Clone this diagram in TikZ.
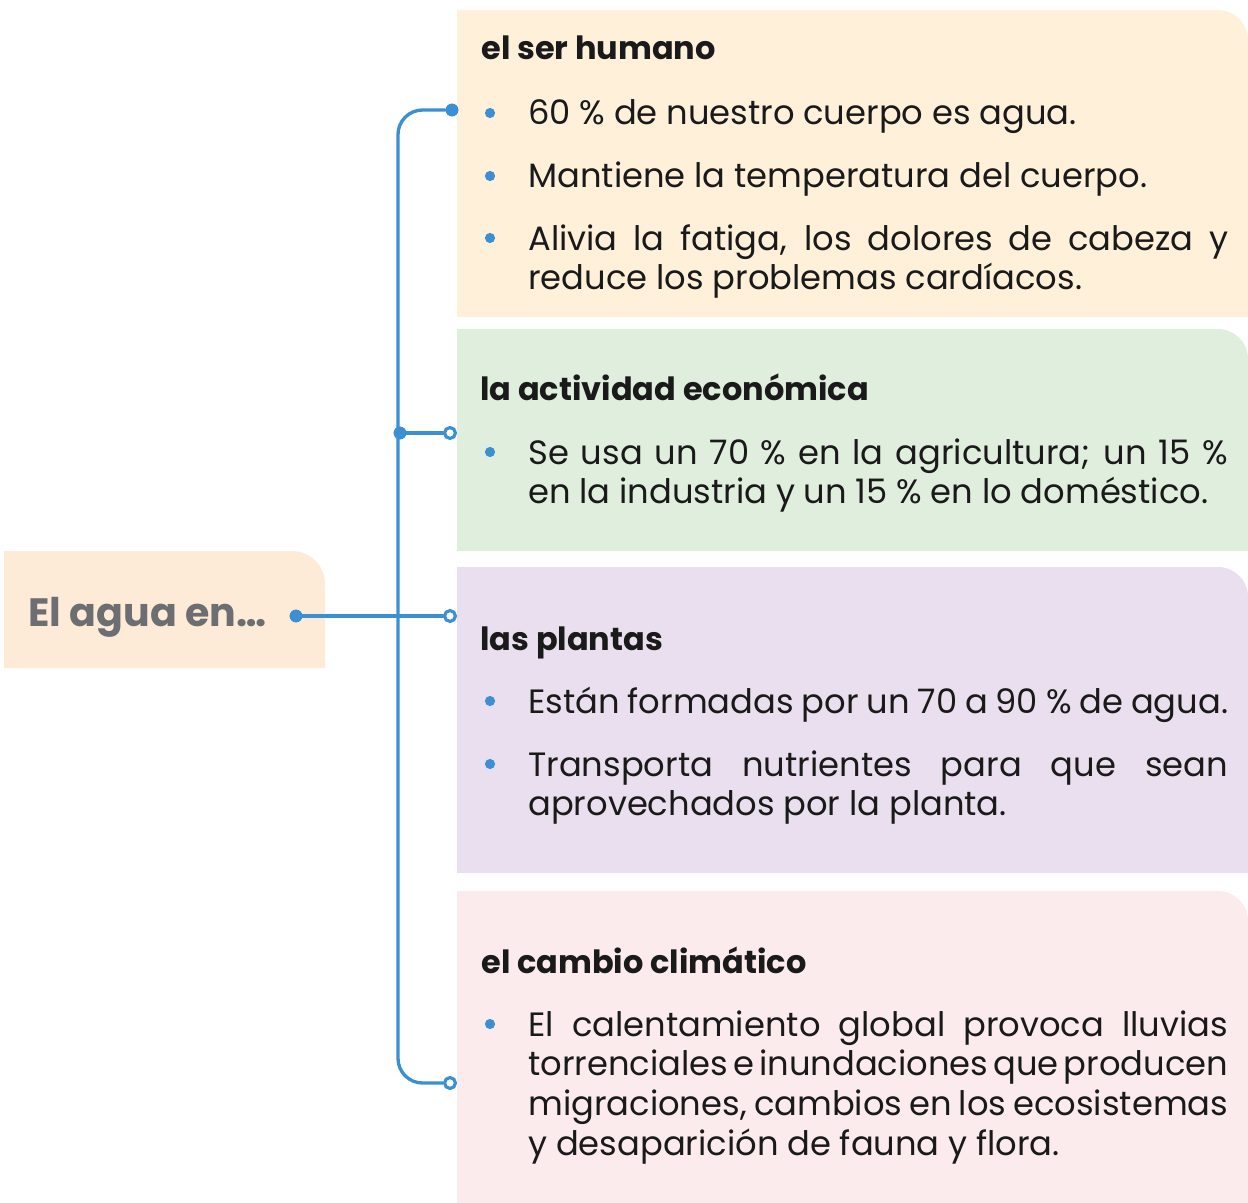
\documentclass[tikz,border=0pt]{standalone}
\usepackage{fontspec}
\setmainfont{Poppins}
\usepackage{xcolor}
\usepackage{tikz}
\definecolor{humanbg}{HTML}{FFF0DA}
\definecolor{econbg}{HTML}{E0EEDD}
\definecolor{plantbg}{HTML}{E9DFEE}
\definecolor{climatebg}{HTML}{FCEBEC}
\definecolor{rootbg}{HTML}{FEEBD7}
\definecolor{linkblue}{HTML}{3A90D2}
\definecolor{rootgray}{HTML}{6D6E71}
\definecolor{ink}{HTML}{1A1A1A}
\tikzset{
  water map/.style={
    line cap=round,
    line join=round
  },
  bodytext/.style={
    anchor=base west,
    inner sep=0pt,
    text width=14cm,
    align=justify,
    text=ink,
    font=\fontsize{19.2}{22.7}\selectfont,
    execute at begin node={\hyphenpenalty=10000\exhyphenpenalty=10000
      \spaceskip=0.26em plus 0.6em minus 0.2em}
  },
  headtext/.style={
    anchor=base west,
    inner sep=0pt,
    text=ink,
    font=\fontsize{18.2}{22.7}\selectfont\bfseries
  },
  roottext/.style={
    anchor=base west,
    inner sep=0pt,
    text=rootgray,
    font=\fontsize{22.5}{27}\selectfont\bfseries
  },
  bulletdot/.style={
    circle,
    fill=linkblue,
    minimum size=5.8pt,
    inner sep=0pt
  },
  tipdot/.style={
    circle,
    fill=linkblue,
    minimum size=7.2pt,
    inner sep=0pt
  },
  tipring/.style={
    circle,
    draw=linkblue,
    fill=white,
    line width=1.8pt,
    minimum size=6.2pt,
    inner sep=0pt
  },
  link/.style={draw=linkblue, line width=1.9pt}
}
\begin{document}
\begin{tikzpicture}[x=0.02cm, y=-0.02cm, water map]
\useasboundingbox (0,0) rectangle (1248,1203);
% panels
\fill[rootbg] (4,668) -- (4,551) -- (292,551) arc[start angle=-90, end angle=0, radius=33] -- (325,668) -- cycle;
\fill[humanbg] (457,317) -- (457,10) -- (1218,10) arc[start angle=-90, end angle=0, radius=30] -- (1248,317) -- cycle;
\fill[econbg] (457,551) -- (457,329) -- (1218,329) arc[start angle=-90, end angle=0, radius=30] -- (1248,551) -- cycle;
\fill[plantbg] (457,873) -- (457,567) -- (1218,567) arc[start angle=-90, end angle=0, radius=30] -- (1248,873) -- cycle;
\fill[climatebg] (457,1203) -- (457,891) -- (1218,891) arc[start angle=-90, end angle=0, radius=30] -- (1248,1203) -- cycle;

% root
\node[roottext] (root) at (28,626) {El agua en…};

% connectors
\coordinate (spine) at (398,616);
\node[tipdot] (hdot) at (452,110) {};
\node[tipdot] (edot) at (400,433) {};
\node[tipdot] (adot) at (296,616) {};
\node[tipring] (ering) at (450,433) {};
\node[tipring] (pring) at (450,616) {};
\node[tipring] (cring) at (450,1083) {};
\draw[link, rounded corners=14pt] (hdot) -| (spine) |- (cring);
\draw[link] (edot) -- (ering);
\draw[link] (adot) -- (pring);
\node[tipdot] at (hdot) {};
\node[tipdot] at (edot) {};
\node[tipdot] at (adot) {};

% el ser humano
\node[headtext] (human) at (481,60) {el ser humano};
\node[bulletdot] (h1dot) at (490,113) {};
\node[bodytext] (h1) at (528,125) {60 \% de nuestro cuerpo es agua.};
\node[bulletdot] (h2dot) at (490,176) {};
\node[bodytext] (h2) at (528,188) {Mantiene la temperatura del cuerpo.};
\node[bulletdot] (h3dot) at (490,238) {};
\node[bodytext] (h3) at (528,250) {Alivia la fatiga, los dolores de cabeza y\linebreak reduce los problemas cardíacos.};

% la actividad economica
\node[headtext] (econ) at (480,400) {la actividad económica};
\node[bulletdot] (e1dot) at (490,452) {};
\node[bodytext] (e1) at (528,464) {Se usa un 70 \% en la agricultura; un 15 \%\linebreak en la industria y un 15 \% en lo doméstico.};

% las plantas
\node[headtext] (plant) at (480,650) {las plantas};
\node[bulletdot] (p1dot) at (490,701) {};
\node[bodytext] (p1) at (528,713) {Están formadas por un 70 a 90 \% de agua.};
\node[bulletdot] (p2dot) at (490,764) {};
\node[bodytext] (p2) at (528,776) {Transporta nutrientes para que sean\linebreak aprovechados por la planta.};

% el cambio climatico
\node[headtext] (climate) at (481,973) {el cambio climático};
\node[bulletdot] (c1dot) at (490,1024) {};
\node[bodytext] (c1) at (528,1036) {El calentamiento global provoca lluvias\linebreak torrenciales e inundaciones que producen\linebreak migraciones, cambios en los ecosistemas\linebreak y desaparición de fauna y flora.};
\end{tikzpicture}
\end{document}
